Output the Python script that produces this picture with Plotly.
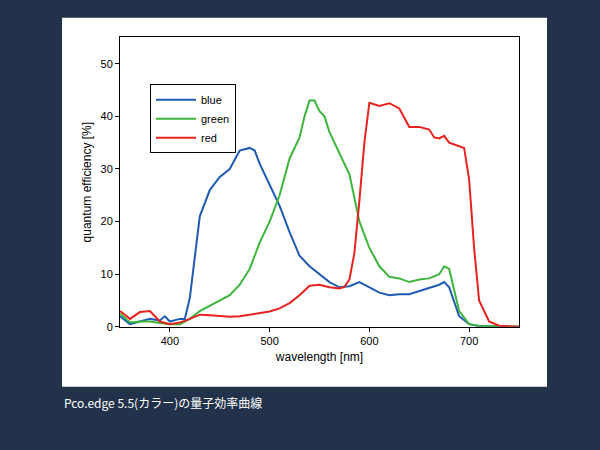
import plotly.graph_objects as go

# wavelength [nm] and quantum efficiency [%]
blue_x = [350, 360, 370, 380, 390, 395, 400, 410, 415, 420, 430, 440, 450, 460, 470, 480, 485, 490, 500, 510, 520, 530, 540, 550, 560, 570, 580, 590, 600, 610, 620, 630, 640, 650, 660, 670, 675, 680, 690, 700, 710, 750]
blue_y = [2, 0.5, 1, 1.5, 1.2, 2, 1, 1.5, 1.5, 5.5, 21, 26, 28.5, 30, 33.5, 34, 33.5, 31, 27, 23, 18, 13.5, 11.5, 10, 8.5, 7.5, 7.7, 8.5, 7.5, 6.5, 6, 6.2, 6.2, 6.8, 7.3, 8, 8.5, 7.5, 2, 0.5, 0.1, 0]

green_x = [350, 360, 370, 380, 390, 400, 410, 420, 430, 440, 450, 460, 470, 480, 490, 500, 510, 520, 530, 535, 540, 545, 550, 555, 560, 570, 580, 590, 600, 610, 620, 630, 640, 650, 660, 670, 675, 680, 690, 700, 710, 750]
green_y = [2.5, 0.8, 1, 1, 0.7, 0.5, 0.5, 1.5, 3, 4, 5, 6, 8, 11, 16, 20, 25, 32, 36, 40, 43, 43, 41, 40, 37, 33, 29, 20, 15, 11.5, 9.5, 9.2, 8.5, 9, 9.2, 10, 11.5, 11, 3, 0.5, 0.2, 0]

red_x = [350, 360, 370, 380, 385, 390, 400, 410, 420, 430, 440, 450, 460, 470, 480, 490, 500, 510, 520, 530, 540, 550, 560, 570, 575, 580, 585, 590, 595, 600, 610, 620, 630, 640, 650, 660, 665, 670, 675, 680, 690, 695, 700, 705, 710, 720, 730, 750]
red_y = [3, 1.5, 2.8, 3, 2, 1, 0.5, 0.8, 1.5, 2.3, 2.2, 2, 1.9, 2, 2.3, 2.6, 2.9, 3.5, 4.5, 6, 7.8, 8, 7.5, 7.3, 7.6, 9, 14, 24, 35, 42.6, 42, 42.5, 41.5, 38, 38, 37.5, 36, 35.8, 36.3, 35, 34.3, 34, 28, 15, 5, 1, 0.2, 0]

fig = go.Figure()
fig.add_trace(go.Scatter(x=blue_x, y=blue_y, mode='lines', name='blue', line=dict(color='#1f5bb5', width=2)))
fig.add_trace(go.Scatter(x=green_x, y=green_y, mode='lines', name='green', line=dict(color='#3cb53c', width=2)))
fig.add_trace(go.Scatter(x=red_x, y=red_y, mode='lines', name='red', line=dict(color='#e8221e', width=2)))

axis_style = dict(showline=True, linecolor='black', linewidth=1, mirror=True, ticks='outside',
                  ticklen=4, tickcolor='black', showgrid=False, zeroline=False,
                  tickfont=dict(size=11, color='black'))

fig.update_layout(
    width=600, height=450,
    margin=dict(l=0, r=0, t=0, b=0),
    paper_bgcolor='#22324a',
    plot_bgcolor='white',
    font=dict(family='Liberation Sans, Arial', color='black'),
    xaxis=dict(range=[350, 750], tickvals=[400, 500, 600, 700], domain=[0.2, 0.865],
               title=dict(text='wavelength [nm]', font=dict(size=12), standoff=6), **axis_style),
    yaxis=dict(range=[0, 55], tickvals=[0, 10, 20, 30, 40, 50], domain=[0.264, 0.9156],
               title=dict(text='quantum efficiency [%]', font=dict(size=12), standoff=6), **axis_style),
    legend=dict(x=0.25, y=0.81, xanchor='left', yanchor='top', bgcolor='white',
                bordercolor='black', borderwidth=1, font=dict(size=11), itemwidth=40,
                tracegroupgap=0),
    shapes=[dict(type='rect', xref='paper', yref='paper', x0=62/600, x1=547/600,
                 y0=1-392/450, y1=1-18/450, fillcolor='white', line=dict(width=0), layer='below')],
    annotations=[dict(text='Pco.edge 5.5(カラー)の量子効率曲線', xref='paper', yref='paper',
                      x=62/600, y=1-408/450, xanchor='left', yanchor='middle', showarrow=False,
                      font=dict(size=12, color='white', family='Noto Sans CJK JP'))],
)

fig.write_html("out.html", config={'displayModeBar': False},
               post_script="document.body.style.margin='0';document.body.style.background='#22324a';")
